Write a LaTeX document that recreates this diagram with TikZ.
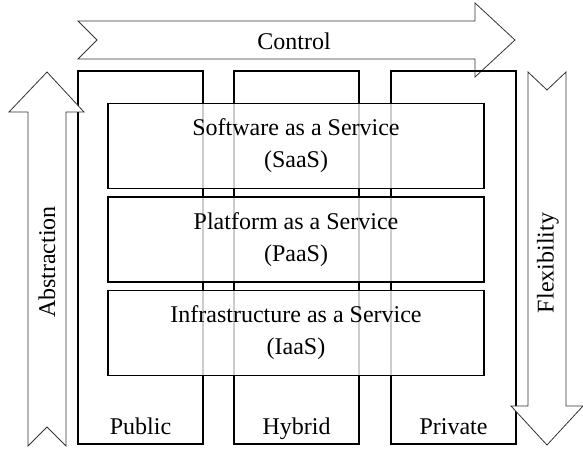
\documentclass[tikz,border=0pt]{standalone}
\usepackage{fontspec}
\setmainfont{Liberation Serif}
\tikzset{
  col/.style={draw, line width=1.2pt},
  svc/.style={draw, line width=1.2pt, fill=white, fill opacity=.8, text opacity=1,
    minimum width=376pt, minimum height=85pt, align=center, inner sep=0pt},
  bigarrow/.style={draw=black!80, line width=.8pt, fill=white, line join=miter},
  lbl/.style={font=\fontsize{24}{32}\selectfont}
}
\begin{document}
\begin{tikzpicture}[x=1pt, y=-1pt, lbl]
\useasboundingbox (0,0) rectangle (583,449);
% control arrow
\draw[bigarrow] (78,21)--(475,21)--(475,3)--(515,40)--(475,77)--(475,59)--(78,59)--(97,40)--cycle;
\node (ctrl) at (294,41) {Control};
% columns
\foreach \n/\x/\t in {pub/78/Public, hyb/234/Hybrid, pri/391/Private}
{
  \draw[col] (\x,71) rectangle ++(125,373);
  \node[anchor=base] (\n) at (\x+62.5,434) {\t};
}
% service layers
\foreach \n/\y/\t/\s in {saas/146/Software/SaaS, paas/239.5/Platform/PaaS, iaas/333/Infrastructure/IaaS}
  \node[svc] (\n) at (296,\y) {\t\ as a Service\\(\s)};
% abstraction arrow (up)
\draw[bigarrow] (28,446)--(47,427)--(66,446)--(66,112)--(84,112)--(47,72)--(9,112)--(28,112)--cycle;
\node[rotate=90] (abs) at (47,262) {Abstraction};
% flexibility arrow (down)
\draw[bigarrow] (528,72)--(547,90)--(566,72)--(566,406)--(583,406)--(547,445)--(511,406)--(528,406)--cycle;
\node[rotate=90] (flex) at (548,263) {Flexibility};
\end{tikzpicture}
\end{document}
